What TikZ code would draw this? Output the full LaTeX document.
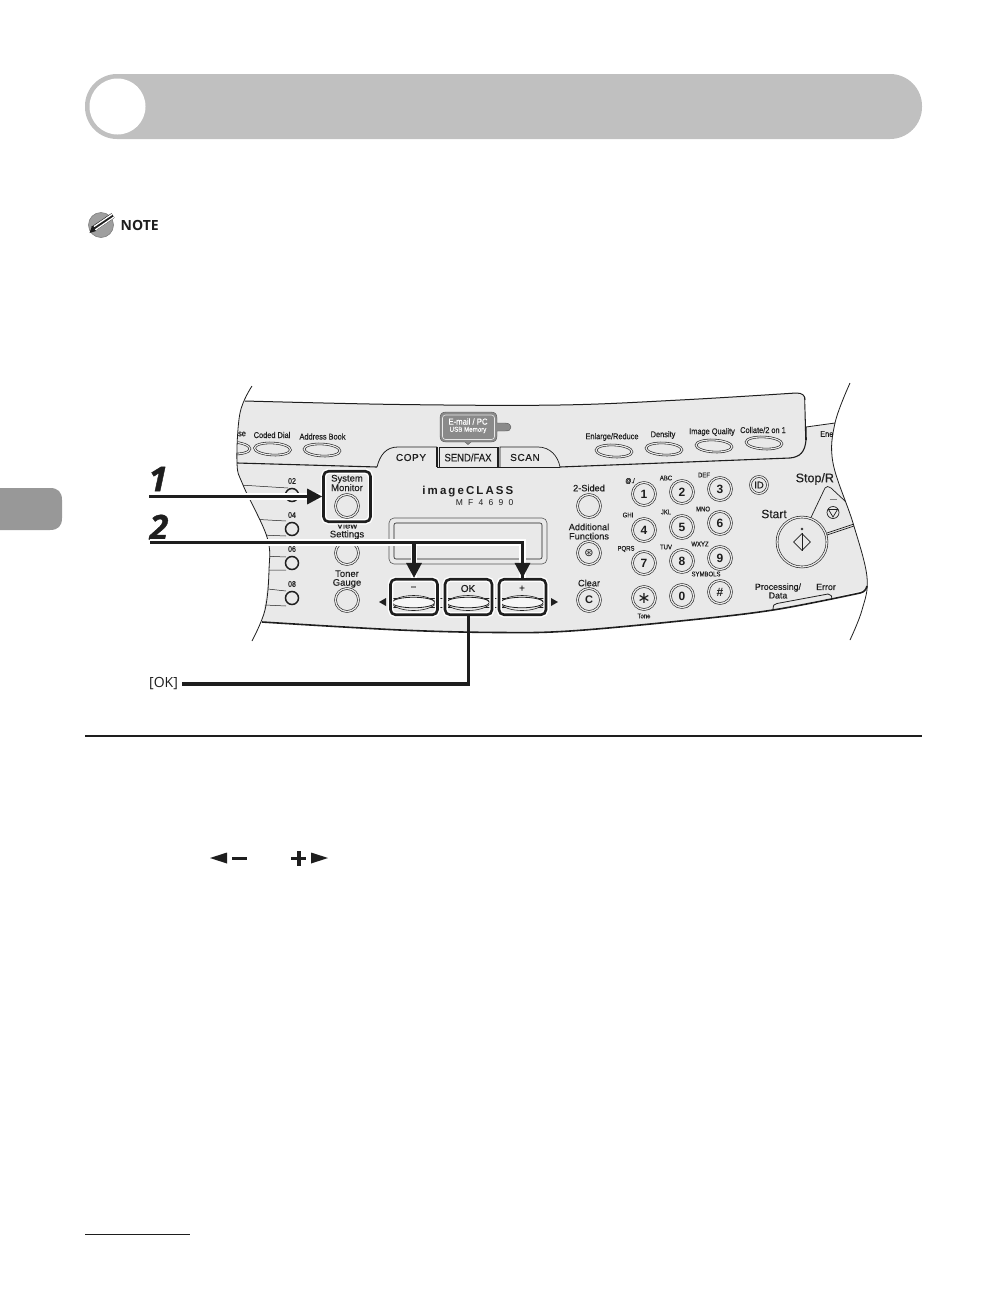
\documentclass[tikz,border=0pt]{standalone}
\usepackage{fontspec}
\setmainfont{Liberation Sans}
\newfontfamily\nf[FakeStretch=0.88,FakeBold=0.25]{Liberation Sans}
\newfontfamily\mf[FakeBold=0.25]{Liberation Sans}
\newfontfamily\of{Open Sans}
\newfontfamily\djv{DejaVu Sans}
\newfontfamily\wide[LetterSpace=6,FakeBold=0.25]{Liberation Sans}
\newfontfamily\brandf[LetterSpace=18]{Liberation Sans}
\newfontfamily\modelf[LetterSpace=62]{Liberation Sans}
\newfontfamily\stepf[FakeBold=1.2]{Open Sans Bold Italic}
\usetikzlibrary{arrows.meta,shapes.geometric}
\definecolor{panelc}{HTML}{E9E9E9}
\definecolor{ink}{HTML}{1E1E1E}
\definecolor{barc}{HTML}{C0C0C0}
\definecolor{tabc}{HTML}{989898}
\definecolor{badge}{HTML}{8A8A8A}
\tikzset{
 lab/.style={inner sep=0,align=center,text=ink,font=\nf\fontsize{8.4}{9}\selectfont},
 big/.style={inner sep=0,align=center,text=ink,font=\mf\fontsize{9.2}{9.2}\selectfont},
 tiny/.style={inner sep=0,text=ink,font=\nf\fontsize{6.8}{7}\selectfont},
 ring/.style={circle,draw=ink,line width=.6pt,double=panelc,double distance=1.3pt,minimum size=23pt,inner sep=0,text=ink},
 key/.style={ring,font=\bfseries\fontsize{12}{12}\selectfont},
 led/.style={circle,draw=ink,line width=1.5pt,fill=panelc,minimum size=13pt,inner sep=0},
 oval/.style={ellipse,draw=ink,line width=.6pt,double=panelc,double distance=1.2pt,minimum width=36pt,minimum height=12pt,inner sep=0,rotate=-3},
 bigoval/.style={ellipse,draw=ink,line width=.8pt,fill=panelc!40,minimum width=43pt,minimum height=10.5pt,inner sep=0},
 hibox/.style={rectangle,rounded corners=5pt,draw=ink,line width=2.6pt,minimum width=47pt,inner sep=0,preaction={draw=white,line width=5.5pt}},
 callout/.style={draw=ink,line width=3.2pt,preaction={draw=white,line width=6.5pt,-}},
 tipped/.style={-{Triangle[length=15pt,width=15pt]}},
 stepnum/.style={inner sep=0,text=ink,font=\stepf\fontsize{34}{34}\selectfont},
 tabtext/.style={inner sep=0,text=ink,font=\wide\fontsize{10}{10}\selectfont},
}
\def\panelpath{plot[smooth,tension=.6] coordinates {(245,401)(400,404.5)(560,405)(680,400)(796,393)} -- (805,397) -- (806,427) -- (835,423)
 -- plot[smooth,tension=.6] coordinates {(835,423)(833,463)(853,523)(867,577)(865,590)}
 -- plot[smooth,tension=.6] coordinates {(865,590)(773,610)(680,621)(570,631)(500,632.5)(400,630)(262,622)}
 -- plot[smooth,tension=.6] coordinates {(262,622)(269,570)(267,537)(243,485)(237,463)(240,413)(245,401)} -- cycle}
\begin{document}
\begin{tikzpicture}[x=1pt,y=-1pt]
\useasboundingbox (0,0) rectangle (1008,1296);
\fill[white] (0,0) rectangle (1008,1296);
% heading bar
\node[rectangle,rounded corners=32pt,fill=barc,minimum width=837pt,minimum height=65pt,inner sep=0,outer sep=0] (bar) at (503.5,106.5) {};
\node[circle,fill=white,minimum size=56pt,inner sep=0] (barcircle) at (117.5,106.5) {};
% note icon
\node[circle,fill=gray!75,draw=gray,line width=.6pt,minimum size=25pt,inner sep=0] (noteicon) at (101,225) {};
\draw[ink,line width=5.5pt] (93,229) -- (113,215.5);
\draw[white,line width=1.3pt] (94,226.5) -- (112,214.3);
\draw[white,line width=1.3pt] (95,230) -- (114,217);
\fill[ink] (89.5,233) -- (92,226) -- (96,231) -- cycle;
\node[inner sep=0,anchor=west,text=ink,font=\of\bfseries\fontsize{14}{14}\selectfont] (notetext) at (120.5,225.5) {NOTE};
% side tab
\fill[tabc] (0,488) -- (50,488) .. controls (58,488) and (62,492) .. (62,500) -- (62,518) .. controls (62,526) and (58,530) .. (50,530) -- (0,530) -- cycle;
% panel
\fill[panelc] \panelpath;
\begin{scope}
\clip \panelpath;
 % small left row lines
 \draw[ink,line width=.5pt] (240,485) -- (288,488) (250,519) -- (286,521) (262,535) -- (286,536) (262,556) -- (286,557) (268,570) -- (286,570) (268,589) -- (286,591) (265,605) -- (286,606);
 % top overlay
 \draw[ink,line width=1.1pt] (237,463) -- (377,467) (560,467) -- (790,458) .. controls (800,457) and (805,452) .. (806,440);
 \draw[ink,line width=1.6pt] (437,467.5) -- (560,467.5);
 \draw[ink,line width=1.6pt] (805,397) -- (806,440);
 % tabs
 \draw[ink,line width=.8pt] (377,467) .. controls (380,455) and (386,447) .. (398,447) -- (437,447);
 \draw[ink,line width=1.4pt] (437,447) -- (437,467);
 \draw[ink,line width=.7pt] (439,447) rectangle (497,467);
 \draw[ink,line width=.7pt] (498.5,447) -- (498.5,467);
 \draw[ink,line width=.7pt] (500,467) -- (500,447) -- (538,447) .. controls (550,447) and (558,456) .. (560,467);
 \node[tabtext] (copy) at (411,457.5) {COPY};
 \node[tabtext,font=\nf\fontsize{10.8}{11}\selectfont] (sendfax) at (468,457.5) {SEND/FAX};
 \node[tabtext] (scan) at (525,457.5) {SCAN};
 % email badge
 \fill[badge] (440,418) .. controls (440,414) and (442,412) .. (446,412) -- (491,412) .. controls (495,412) and (497,414) .. (497,418) -- (497,423) -- (505,423) .. controls (509,423) and (511,425) .. (511,427) .. controls (511,430) and (509,431) .. (505,431) -- (497,431) -- (497,436) .. controls (497,440) and (495,442) .. (491,442) -- (471,442) -- (468,444.5) -- (465,442) -- (446,442) .. controls (442,442) and (440,440) .. (440,436) -- cycle;
 \draw[ink!75,line width=.4pt] (440,418) .. controls (440,414) and (442,412) .. (446,412) -- (491,412) .. controls (495,412) and (497,414) .. (497,418) -- (497,423) -- (505,423) .. controls (509,423) and (511,425) .. (511,427) .. controls (511,430) and (509,431) .. (505,431) -- (497,431) -- (497,436) .. controls (497,440) and (495,442) .. (491,442) -- (471,442) -- (468,444.5) -- (465,442) -- (446,442) .. controls (442,442) and (440,440) .. (440,436) -- cycle;
 \draw[panelc,line width=.6pt,rounded corners=3pt] (442.5,415) rectangle (494.5,439.5);
 \node[inner sep=0,text=white,font=\nf\fontsize{8.8}{9}\selectfont] (email) at (468,421.5) {E-mail / PC};
 \node[inner sep=0,text=white,font=\nf\fontsize{7}{7}\selectfont] (usb) at (468,430) {USB Memory};
 % top ovals and labels
 \node[oval] (ovse) at (232,448) {};
 \node[oval] (ovcoded) at (272.5,449) {};
 \node[oval] (ovaddr) at (322,450) {};
 \node[oval] (ovenl) at (614,451) {};
 \node[oval] (ovden) at (664,449) {};
 \node[oval] (ovimg) at (714,446) {};
 \node[oval] (ovcol) at (764,443) {};
 \node[lab] (tse) at (242,434) {se};
 \node[lab] (tcoded) at (272,435) {Coded Dial};
 \node[lab] (taddr) at (322.5,436.5) {Address Book};
 \node[lab] (tenl) at (612,437) {Enlarge/Reduce};
 \node[lab] (tden) at (663,435) {Density};
 \node[lab] (timg) at (712,432) {Image Quality};
 \node[lab] (tcol) at (763,430) {Collate/2 on 1};
 \node[lab,anchor=west] (tene) at (820,434) {Ene};
 % LEDs
 \foreach \n/\y in {02/495,04/529,06/563,08/598}{
  \node[led] (led\n) at (292,\y) {};
  \node[lab,font=\nf\fontsize{8}{8}\selectfont] (tled\n) at (292,\y-14) {\n};
 }
 % left column
 \node[ring] (bview) at (347,553) {};
 \node[ring] (btoner) at (347,600) {};
 \node[lab,font=\mf\fontsize{9.5}{8.8}\selectfont] (tview) at (347,530.5) {View\\Settings};
 \node[lab,font=\mf\fontsize{9.5}{8.8}\selectfont] (ttoner) at (347,579) {Toner\\Gauge};
 % imageclass
 \node[inner sep=0,anchor=east,text=ink,font=\brandf\bfseries\fontsize{11.5}{11}\selectfont] (brand) at (513.5,491.5) {imageCLASS};
 \node[inner sep=0,anchor=east,text=ink,font=\modelf\fontsize{8.5}{8}\selectfont] (model) at (513.5,502.5) {MF4690};
 % LCD
 \node[rectangle,rounded corners=5pt,draw=ink!75,line width=.6pt,minimum width=158pt,minimum height=46pt,inner sep=0] (lcdouter) at (468,541) {};
 \node[rectangle,rounded corners=2pt,draw=ink,line width=.6pt,minimum width=148pt,minimum height=36pt,inner sep=0] (lcd) at (468,541) {};
 % right-of-screen column
 \node[big] (t2s) at (589,488) {2-Sided};
 \node[ring] (b2s) at (589,506) {};
 \node[big] (tadd) at (589,531.5) {Additional\\Functions};
 \node[ring,font=\djv\fontsize{11}{11}\selectfont] (badd) at (589,553) {⊛};
 \node[big] (tclear) at (589,583) {Clear};
 \node[key,font=\bfseries\fontsize{11}{11}\selectfont] (bclear) at (589,600) {C};
 % keypad
 \foreach \n/\x/\y/\t in {k1/644/494/1,k2/682/492/2,k3/720/489/3,k4/644/530/4,k5/682/527/5,k6/720/523/6,k7/644/563/7,k8/682/561/8,k9/720/558/9,kstar/644/598/{\djv\mdseries\fontsize{16}{16}\selectfont ∗},k0/682/596/0,khash/720/592/\#}{
  \node[key] (\n) at (\x,\y) {\t};
 }
 \foreach \n/\x/\y/\t in {ta1/630/481/{@./},ta2/666/478/ABC,ta3/704/475/DEF,ta4/628/515/GHI,ta5/666/512/JKL,ta6/703/509/MNO,ta7/626/549/PQRS,ta8/666/547/TUV,ta9/700/544/WXYZ,ta10/706/574/SYMBOLS,ta11/644/616/Tone}{
  \node[tiny] (\n) at (\x,\y) {\t};
 }
 \node[ring,minimum size=17pt,font=\mf\fontsize{9.5}{10}\selectfont] (bid) at (759,485) {ID};
 % start and stop
 \node[inner sep=0,anchor=west,text=ink,font=\mf\fontsize{12.5}{13}\selectfont] (tstop) at (795.5,479) {Stop/R};
 \node[inner sep=0,text=ink,font=\mf\fontsize{12}{12}\selectfont] (tstart) at (774,514) {Start};
 \draw[ink,line width=.7pt] (810,519.5) -- (825,488) .. controls (826,486) and (829,486) .. (831,488) -- (860,515);
 \draw[ink,line width=.7pt] (827,533) -- (860,522) (827,535) -- (860,524);
 \node[ring,minimum size=50pt] (bstart) at (802,542) {};
 \node[diamond,draw=ink,line width=.7pt,minimum size=17pt,inner sep=0] (dstart) at (802,542) {};
 \draw[ink,line width=.6pt] (dstart.north) -- (dstart.south);
 \node[circle,draw=ink,line width=.4pt,minimum size=2pt,inner sep=0] (dotstart) at (802,529) {};
 \node[circle,draw=ink,line width=.7pt,minimum size=12pt,inner sep=0] (bstop) at (833,512.5) {};
 \draw[ink,line width=.7pt] (828.5,509.5) -- (837.5,509.5) -- (833,517) -- cycle;
 \draw[gray,line width=.7pt] (829.5,499) -- (836.5,499);
 % processing
 \node[lab,font=\mf\fontsize{8.8}{8.6}\selectfont] (tproc) at (778,591) {Processing/\\Data};
 \node[lab,font=\mf\fontsize{8.8}{9}\selectfont] (terr) at (826,587) {Error};
 \draw[ink,line width=.8pt] (773,610) .. controls (773,605) and (774,604) .. (777,603.5) -- (828,594) .. controls (831,594) and (832,596) .. (832,600);
\end{scope}
% panel outlines
\draw[ink,line width=.8pt] plot[smooth,tension=.6] coordinates {(252,386)(240,413)(237,463)(243,485)(267,537)(269,570)(265,610)(252,641)};
\draw[ink,line width=.8pt] plot[smooth,tension=.6] coordinates {(850,383)(835,423)(833,463)(853,523)(867,577)(862,610)(850,640)};
\draw[ink,line width=1pt] plot[smooth,tension=.6] coordinates {(245,401)(400,404.5)(560,405)(680,400)(796,393)} .. controls (802,393) and (805,395) .. (805,400);
\draw[ink,line width=.8pt] (806,427) -- (835,423);
\draw[ink,line width=1.6pt] plot[smooth,tension=.6] coordinates {(262,622)(400,630)(500,632.5)(570,631)(680,621)(773,610)(860,593)} .. controls (864,592) and (866,590) .. (867,586);
% system monitor
\node[lab,font=\mf\fontsize{9.5}{9.5}\selectfont] (tsys) at (347,483) {System\\Monitor};
\node[ring] (bsys) at (347,506) {};
% big buttons
\draw[ink,line width=.6pt] (391,598) -- (545,598) (391,607) -- (545,607);
\foreach \n/\x/\t in {minus/413.5/{\textminus},ok/468/OK,plus/522/+}{
 \draw[ink,line width=.6pt,fill=panelc] (\x-23,603) .. controls (\x-15,593) and (\x+15,593) .. (\x+23,603) .. controls (\x+15,613) and (\x-15,613) .. (\x-23,603) -- cycle;
 \node[bigoval] (ov\n) at (\x,602.5) {};
 \node[inner sep=0,text=ink,font=\mf\fontsize{10}{10}\selectfont] (t\n) at (\x,588.5) {\t};
}
\fill[ink] (379,602) -- (386,598) -- (386,606) -- cycle;
\fill[ink] (558,602) -- (551,598) -- (551,606) -- cycle;
% highlight boxes
\node[hibox,minimum height=50.5pt] (sysbox) at (347,496.5) {};
\node[hibox,minimum height=35.5pt] (minusbox) at (414,597) {};
\node[hibox,minimum height=35.5pt] (okbox) at (468.5,597) {};
\node[hibox,minimum height=35.5pt] (plusbox) at (522.5,597) {};
% step numbers
\node[stepnum] (one) at (158,479) {1};
\node[stepnum] (two) at (159,527) {2};
\node[inner sep=0,anchor=west,text=ink,font=\of\fontsize{14}{14}\selectfont] (oklabel) at (149,684) {[OK]};
\coordinate (onestart) at (149,496.5);
\coordinate (twostart) at (150,542.5);
% connectors
\draw[callout] (twostart) -- (minusbox.north |- twostart) -- (plusbox.north |- twostart) -- (plusbox.north);
\draw[draw=ink,line width=3.2pt,tipped] (plusbox.north |- twostart) -- (plusbox.north);
\draw[callout,tipped] (minusbox.north |- twostart) -- (minusbox.north);
\draw[draw=ink,line width=3.2pt] (twostart) -- (plusbox.north |- twostart);
\draw[callout,tipped] (onestart) -- (sysbox.west);
\draw[draw=ink,line width=3.2pt] ([xshift=4pt]oklabel.east) -- (okbox.south |- oklabel) -- (okbox.south);
% rules
\draw[ink,line width=1.6pt] (85,736) -- (922,736);
\draw[ink,line width=1pt] (85,1234) -- (190,1234);
% inline key symbols
\fill[ink] (210,858) -- (227,852.5) -- (227,863.5) -- cycle;
\fill[ink] (232,856.5) rectangle (247,859.5);
\fill[ink] (291,856.5) rectangle (306,859.5);
\fill[ink] (297,850.5) rectangle (300.5,865.5);
\fill[ink] (328,858) -- (311,852.5) -- (311,863.5) -- cycle;
\end{tikzpicture}
\end{document}
